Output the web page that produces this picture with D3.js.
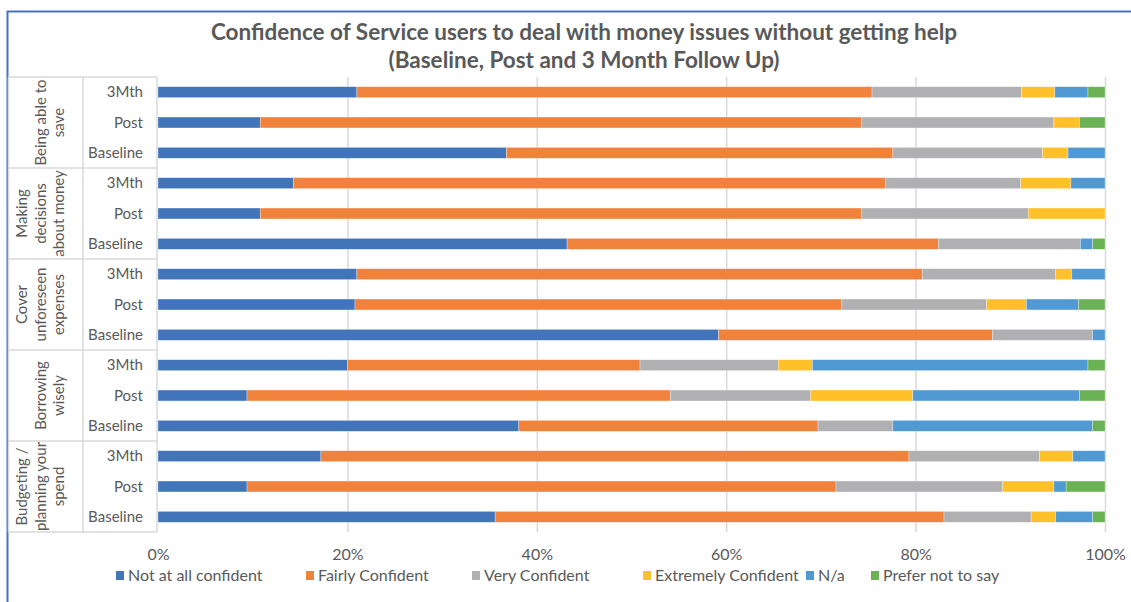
<!DOCTYPE html>
<html>
<head>
<meta charset="utf-8">
<script src="https://cdn.jsdelivr.net/npm/d3@7/dist/d3.min.js"></script>
<style>
  body { margin: 0; background: #fff; }
  svg { display: block; font-family: Lato, "Open Sans", sans-serif; }
</style>
</head>
<body>
<svg id="chart" width="1131" height="602"></svg>
<script>
// ---- data (percent of respondents, rows listed top to bottom) ----
const titleLines = [
  "Confidence of Service users to deal with money issues without getting help",
  "(Baseline, Post and 3 Month Follow Up)"
];
const groups = [
  ["Being able to", "save"],
  ["Making", "decisions", "about money"],
  ["Cover", "unforeseen", "expenses"],
  ["Borrowing", "wisely"],
  ["Budgeting /", "planning your", "spend"]
];
const periods = ["3Mth", "Post", "Baseline"];
const seriesNames = ["Not at all confident", "Fairly Confident", "Very Confident",
                     "Extremely Confident", "N/a", "Prefer not to say"];
const seriesColors = ["#4274ba", "#f0823b", "#b0b0b3", "#ffc02a", "#5099d3", "#6bb156"];

const notAtAll  = [21.0, 10.8, 36.8, 14.3, 10.8, 43.2, 21.0, 20.8, 59.2, 20.0,  9.4, 38.1, 17.2,  9.4, 35.6];
const fairly    = [54.4, 63.5, 40.8, 62.5, 63.5, 39.2, 59.7, 51.4, 28.9, 30.9, 44.7, 31.6, 62.1, 62.2, 47.4];
const very      = [15.8, 20.3, 15.8, 14.3, 17.6, 15.0, 14.1, 15.3, 10.6, 14.6, 14.8,  7.9, 13.8, 17.6,  9.2];
const extremely = [ 3.5,  2.7,  2.7,  5.3,  8.1,  0.0,  1.7,  4.2,  0.0,  3.6, 10.8,  0.0,  3.5,  5.4,  2.6];
const notApplic = [ 3.5,  0.0,  3.9,  3.6,  0.0,  1.3,  3.5,  5.5,  1.3, 29.1, 17.6, 21.1,  3.4,  1.3,  3.9];
const preferNot = [ 1.8,  2.7,  0.0,  0.0,  0.0,  1.3,  0.0,  2.8,  0.0,  1.8,  2.7,  1.3,  0.0,  4.1,  1.3];

const tickValues = [0, 20, 40, 60, 80, 100];

// ---- layout ----
const svg = d3.select("#chart");
const textColor = "#595959";
const lineColor = "#d9d9d9";
const plotTop = 77, plotBottom = 532, plotLeft = 158, plotRight = 1105;
const tableLeft = 8, tableMid = 83;

const seriesValues = [notAtAll, fairly, very, extremely, notApplic, preferNot];
const rows = [];
groups.forEach((g, gi) => periods.forEach((p, pi) => {
  const idx = gi * periods.length + pi;
  const row = { key: gi + "-" + pi, group: gi, period: p };
  seriesNames.forEach((s, si) => { row[s] = seriesValues[si][idx]; });
  rows.push(row);
}));

const x = d3.scaleLinear().domain([0, 100]).range([plotLeft, plotRight]);
const y = d3.scaleBand().domain(rows.map(r => r.key))
  .range([plotTop, plotBottom]).paddingInner(0.64).paddingOuter(0.32);
const step = y.step();

// chart frame (left and top edges visible)
svg.append("path")
  .attr("d", `M7.5,602V11.5H1131`)
  .attr("fill", "none").attr("stroke", "#4472c4").attr("stroke-width", 2);

// title
svg.append("g").selectAll("text").data(titleLines).join("text")
  .attr("x", 584).attr("y", (d, i) => 40 + i * 28)
  .attr("text-anchor", "middle")
  .attr("font-weight", "bold").attr("font-size", 22.5)
  .attr("fill", textColor)
  .text(d => d);

// vertical gridlines
const grid = svg.append("g").attr("transform", `translate(0,${plotBottom})`)
  .call(d3.axisBottom(x).tickValues(tickValues.slice(1)).tickSize(-(plotBottom - plotTop)).tickFormat(""));
grid.select(".domain").remove();
grid.selectAll("line").attr("stroke", lineColor).attr("stroke-width", 1.5);

// category table lines
const table = svg.append("g").attr("stroke", lineColor).attr("stroke-width", 1.5);
const groupEdges = d3.range(groups.length + 1).map(i => plotTop + i * periods.length * step);
table.selectAll("line.h").data(groupEdges).join("line")
  .attr("x1", tableLeft).attr("x2", plotLeft - 1)
  .attr("y1", d => d).attr("y2", d => d);
[tableLeft + 0.5, tableMid, plotLeft - 1].forEach(xv => {
  table.append("line").attr("x1", xv).attr("x2", xv).attr("y1", plotTop).attr("y2", plotBottom);
});

// stacked bars
const stacked = d3.stack().keys(seriesNames)(rows);
svg.append("g").selectAll("g").data(stacked).join("g")
  .attr("fill", (d, i) => seriesColors[i])
  .selectAll("rect").data(d => d.filter(v => v[1] - v[0] > 0)).join("rect")
  .attr("x", d => x(d[0]))
  .attr("y", d => y(d.data.key))
  .attr("width", d => x(d[1]) - x(d[0]))
  .attr("height", y.bandwidth())
  .attr("stroke", "#ffffff").attr("stroke-opacity", 0.5).attr("stroke-width", 0.6);

// period labels
svg.append("g").selectAll("text").data(rows).join("text")
  .attr("x", 143).attr("y", d => y(d.key) + y.bandwidth() / 2)
  .attr("dy", "0.35em").attr("text-anchor", "end")
  .attr("font-size", 15).attr("fill", textColor)
  .text(d => d.period);

// rotated group labels (lines stack leftwards from the last one)
const groupLabels = svg.append("g");
groups.forEach((lines, gi) => {
  const cy = (groupEdges[gi] + groupEdges[gi + 1]) / 2;
  const n = lines.length;
  lines.forEach((t, li) => {
    const cx = 59 - (n - 1 - li) * 18.5;
    groupLabels.append("text")
      .attr("transform", `translate(${cx},${cy}) rotate(-90)`)
      .attr("dy", "0.35em").attr("text-anchor", "middle")
      .attr("font-size", 15).attr("fill", textColor)
      .text(t);
  });
});

// x axis labels
const xAxis = svg.append("g").attr("transform", `translate(0,${plotBottom})`)
  .call(d3.axisBottom(x).tickValues(tickValues).tickFormat(d => d + "%").tickSize(0).tickPadding(17));
xAxis.select(".domain").remove();
xAxis.selectAll("text").attr("font-size", 16).attr("fill", textColor)
  .attr("font-family", "Lato, 'Open Sans', sans-serif");

// legend
const legendX = [116, 306, 472, 643, 806, 871];
const legend = svg.append("g").selectAll("g").data(seriesNames).join("g")
  .attr("transform", (d, i) => `translate(${legendX[i]},575.5)`);
legend.append("rect").attr("x", 0).attr("y", -4.5).attr("width", 8).attr("height", 9)
  .attr("fill", (d, i) => seriesColors[i]);
legend.append("text").attr("x", 12).attr("dy", "0.35em")
  .attr("font-size", 16).attr("fill", textColor)
  .text(d => d);
</script>
</body>
</html>
